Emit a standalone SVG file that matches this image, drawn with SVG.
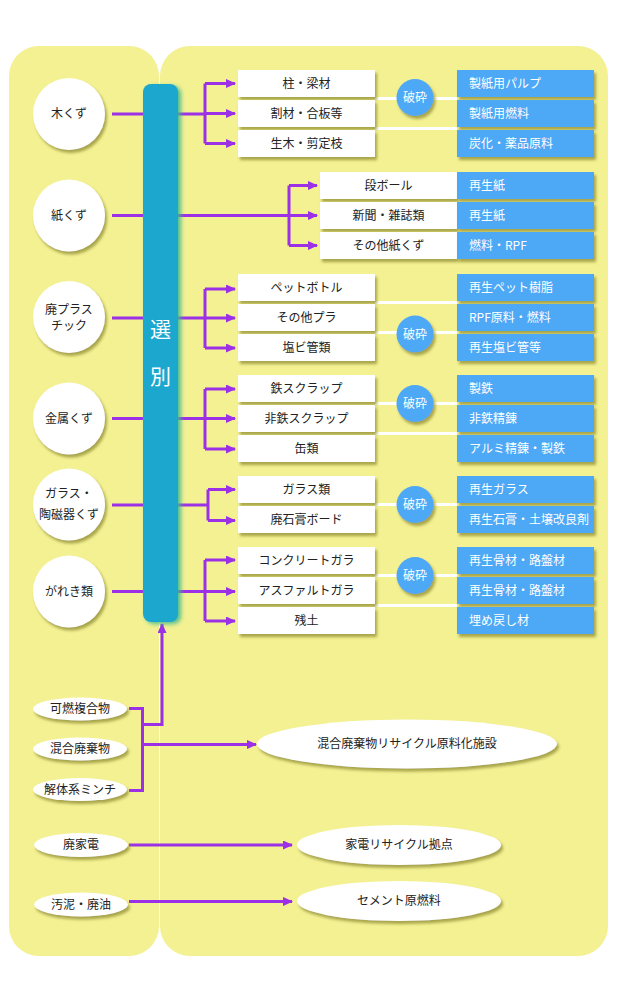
<svg xmlns="http://www.w3.org/2000/svg" width="618" height="989" viewBox="0 0 618 989">
<defs>
<style>
text{font-family:"Noto Sans CJK JP","Noto Sans",sans-serif;font-size:12px;fill:#222}
.bx{fill:#fff;filter:url(#sh)}
.bb{fill:#4EA8F6;filter:url(#sh)}
.wt{fill:#fff}
.c{text-anchor:middle}
.pl{fill:none;stroke:#9B30E6;stroke-width:3}
.wl{fill:none;stroke:#fff;stroke-width:3}
.cr{fill:#fff;filter:url(#sh)}
.hs{fill:#4EA8F6;filter:url(#sh)}
</style>
<filter id="sh" x="-20%" y="-20%" width="150%" height="160%">
<feDropShadow dx="2" dy="3" stdDeviation="1.5" flood-color="#9a953c" flood-opacity="0.85"/>
</filter>
<filter id="bsh" x="-30%" y="-5%" width="170%" height="115%">
<feDropShadow dx="3" dy="2" stdDeviation="2" flood-color="#3fb88f" flood-opacity="0.9"/>
</filter>
<marker id="ah" markerWidth="10" markerHeight="9" refX="9" refY="4.5" orient="auto" markerUnits="userSpaceOnUse">
<path d="M0,0 L10,4.5 L0,9 z" fill="#9B30E6"/>
</marker>
</defs>
<g id="background">
<rect x="9" y="46" width="150" height="910" rx="30" fill="#F3F192"/>
<rect x="160" y="46" width="448" height="910" rx="30" fill="#F3F192"/>
</g>
<g id="connectors">
<path class="pl" d="M112,114 H205"/>
<path class="pl" d="M205,83.5 V143.5"/>
<path class="pl" marker-end="url(#ah)" d="M205,83.5 H235"/>
<path class="pl" marker-end="url(#ah)" d="M205,113.5 H235"/>
<path class="pl" marker-end="url(#ah)" d="M205,143.5 H235"/>
<path class="pl" d="M112,215.5 H289"/>
<path class="pl" d="M289,185.5 V245.5"/>
<path class="pl" marker-end="url(#ah)" d="M289,185.5 H317"/>
<path class="pl" marker-end="url(#ah)" d="M289,215.5 H317"/>
<path class="pl" marker-end="url(#ah)" d="M289,245.5 H317"/>
<path class="pl" d="M112,318 H205"/>
<path class="pl" d="M205,289 V348"/>
<path class="pl" marker-end="url(#ah)" d="M205,289 H235"/>
<path class="pl" marker-end="url(#ah)" d="M205,318 H235"/>
<path class="pl" marker-end="url(#ah)" d="M205,348 H235"/>
<path class="pl" d="M112,418.5 H205"/>
<path class="pl" d="M205,389 V449"/>
<path class="pl" marker-end="url(#ah)" d="M205,389 H235"/>
<path class="pl" marker-end="url(#ah)" d="M205,418.5 H235"/>
<path class="pl" marker-end="url(#ah)" d="M205,449 H235"/>
<path class="pl" d="M112,505 H208"/>
<path class="pl" d="M208,489.5 V520.5"/>
<path class="pl" marker-end="url(#ah)" d="M208,489.5 H235"/>
<path class="pl" marker-end="url(#ah)" d="M208,520.5 H235"/>
<path class="pl" d="M112,591.5 H205"/>
<path class="pl" d="M205,560 V621"/>
<path class="pl" marker-end="url(#ah)" d="M205,560 H235"/>
<path class="pl" marker-end="url(#ah)" d="M205,591.5 H235"/>
<path class="pl" marker-end="url(#ah)" d="M205,621 H235"/>
<path class="pl" d="M129,708.5 H142.5 V790.5 H129"/>
<path class="pl" marker-end="url(#ah)" d="M142.5,724.5 H162 V624"/>
<path class="pl" marker-end="url(#ah)" d="M142.5,744.5 H256"/>
<path class="pl" marker-end="url(#ah)" d="M129,845 H292"/>
<path class="pl" marker-end="url(#ah)" d="M129,901.5 H292"/>
<path class="wl" d="M375,98.5 H457"/>
<path class="wl" d="M375,128.5 H457"/>
<path class="wl" d="M375,302.5 H457"/>
<path class="wl" d="M375,332.5 H457"/>
<path class="wl" d="M375,403.5 H457"/>
<path class="wl" d="M375,433.5 H457"/>
<path class="wl" d="M375,504.5 H457"/>
<path class="wl" d="M375,575.5 H457"/>
<path class="wl" d="M375,605.5 H457"/>
</g>
<g id="sort-bar">
<rect x="143" y="84" width="35" height="538" rx="8" fill="#1BA7CF" filter="url(#bsh)"/>
<text class="c" x="160.5" y="337" style="font-size:21px;fill:#fff">選</text>
<text class="c" x="160.5" y="384" style="font-size:21px;fill:#fff">別</text>
</g>
<g id="src-wood"><circle class="cr" cx="69" cy="114" r="36"/><text class="c" x="69" y="118">木くず</text></g>
<g id="src-paper"><circle class="cr" cx="69" cy="215.5" r="36"/><text class="c" x="69" y="219.5">紙くず</text></g>
<g id="src-plastic"><circle class="cr" cx="69" cy="317" r="36"/><text class="c" x="69" y="313.5">廃プラス</text><text class="c" x="69" y="330">チック</text></g>
<g id="src-metal"><circle class="cr" cx="69" cy="418.5" r="36"/><text class="c" x="69" y="422.5">金属くず</text></g>
<g id="src-glass"><circle class="cr" cx="69" cy="504.5" r="36"/><text class="c" x="69" y="498">ガラス・</text><text class="c" x="69" y="519">陶磁器くず</text></g>
<g id="src-rubble"><circle class="cr" cx="69" cy="591.5" r="36"/><text class="c" x="69" y="595.5">がれき類</text></g>
<g id="wood-items">
<rect class="bx" x="238" y="70" width="137" height="27"/><text class="c" x="306.5" y="88">柱・梁材</text>
<rect class="bx" x="238" y="100" width="137" height="27"/><text class="c" x="306.5" y="118">割材・合板等</text>
<rect class="bx" x="238" y="130" width="137" height="27"/><text class="c" x="306.5" y="148">生木・剪定枝</text>
</g>
<g id="wood-out">
<rect class="bb" x="457" y="70" width="137" height="27"/><text class="wt" x="469" y="88">製紙用パルプ</text>
<rect class="bb" x="457" y="100" width="137" height="27"/><text class="wt" x="469" y="118">製紙用燃料</text>
<rect class="bb" x="457" y="130" width="137" height="27"/><text class="wt" x="469" y="148">炭化・薬品原料</text>
</g>
<g id="crush-wood"><circle class="hs" cx="415" cy="97.5" r="18.5"/><text class="c wt" x="415" y="102">破砕</text></g>
<g id="paper-items">
<rect class="bx" x="320" y="172" width="137" height="27"/><text class="c" x="388.5" y="190">段ボール</text>
<rect class="bx" x="320" y="202" width="137" height="27"/><text class="c" x="388.5" y="220">新聞・雑誌類</text>
<rect class="bx" x="320" y="232" width="137" height="27"/><text class="c" x="388.5" y="250">その他紙くず</text>
</g>
<g id="paper-out">
<rect class="bb" x="457" y="172" width="137" height="27"/><text class="wt" x="469" y="190">再生紙</text>
<rect class="bb" x="457" y="202" width="137" height="27"/><text class="wt" x="469" y="220">再生紙</text>
<rect class="bb" x="457" y="232" width="137" height="27"/><text class="wt" x="469" y="250">燃料・RPF</text>
</g>
<g id="plastic-items">
<rect class="bx" x="238" y="274" width="137" height="27"/><text class="c" x="306.5" y="292">ペットボトル</text>
<rect class="bx" x="238" y="304" width="137" height="27"/><text class="c" x="306.5" y="322">その他プラ</text>
<rect class="bx" x="238" y="334" width="137" height="27"/><text class="c" x="306.5" y="352">塩ビ管類</text>
</g>
<g id="plastic-out">
<rect class="bb" x="457" y="274" width="137" height="27"/><text class="wt" x="469" y="292">再生ペット樹脂</text>
<rect class="bb" x="457" y="304" width="137" height="27"/><text class="wt" x="469" y="322">RPF原料・燃料</text>
<rect class="bb" x="457" y="334" width="137" height="27"/><text class="wt" x="469" y="352">再生塩ビ管等</text>
</g>
<g id="crush-plastic"><circle class="hs" cx="415" cy="334" r="18.5"/><text class="c wt" x="415" y="338.5">破砕</text></g>
<g id="metal-items">
<rect class="bx" x="238" y="375" width="137" height="27"/><text class="c" x="306.5" y="393">鉄スクラップ</text>
<rect class="bx" x="238" y="405" width="137" height="27"/><text class="c" x="306.5" y="423">非鉄スクラップ</text>
<rect class="bx" x="238" y="435" width="137" height="27"/><text class="c" x="306.5" y="453">缶類</text>
</g>
<g id="metal-out">
<rect class="bb" x="457" y="375" width="137" height="27"/><text class="wt" x="469" y="393">製鉄</text>
<rect class="bb" x="457" y="405" width="137" height="27"/><text class="wt" x="469" y="423">非鉄精錬</text>
<rect class="bb" x="457" y="435" width="137" height="27"/><text class="wt" x="469" y="453">アルミ精錬・製鉄</text>
</g>
<g id="crush-metal"><circle class="hs" cx="415" cy="403.5" r="18.5"/><text class="c wt" x="415" y="408">破砕</text></g>
<g id="glass-items">
<rect class="bx" x="238" y="476" width="137" height="27"/><text class="c" x="306.5" y="494">ガラス類</text>
<rect class="bx" x="238" y="506" width="137" height="27"/><text class="c" x="306.5" y="524">廃石膏ボード</text>
</g>
<g id="glass-out">
<rect class="bb" x="457" y="476" width="137" height="27"/><text class="wt" x="469" y="494">再生ガラス</text>
<rect class="bb" x="457" y="506" width="137" height="27"/><text class="wt" x="469" y="524">再生石膏・土壌改良剤</text>
</g>
<g id="crush-glass"><circle class="hs" cx="415" cy="504.5" r="18.5"/><text class="c wt" x="415" y="509">破砕</text></g>
<g id="rubble-items">
<rect class="bx" x="238" y="547" width="137" height="27"/><text class="c" x="306.5" y="565">コンクリートガラ</text>
<rect class="bx" x="238" y="577" width="137" height="27"/><text class="c" x="306.5" y="595">アスファルトガラ</text>
<rect class="bx" x="238" y="607" width="137" height="27"/><text class="c" x="306.5" y="625">残土</text>
</g>
<g id="rubble-out">
<rect class="bb" x="457" y="547" width="137" height="27"/><text class="wt" x="469" y="565">再生骨材・路盤材</text>
<rect class="bb" x="457" y="577" width="137" height="27"/><text class="wt" x="469" y="595">再生骨材・路盤材</text>
<rect class="bb" x="457" y="607" width="137" height="27"/><text class="wt" x="469" y="625">埋め戻し材</text>
</g>
<g id="crush-rubble"><circle class="hs" cx="415" cy="575.5" r="18.5"/><text class="c wt" x="415" y="580">破砕</text></g>
<g id="mix-combustible"><ellipse class="cr" cx="80" cy="709" rx="47" ry="11.5"/><text class="c" x="80" y="713">可燃複合物</text></g>
<g id="mix-waste"><ellipse class="cr" cx="80" cy="749" rx="47" ry="11.5"/><text class="c" x="80" y="753">混合廃棄物</text></g>
<g id="mix-mince"><ellipse class="cr" cx="80" cy="789.5" rx="47" ry="11.5"/><text class="c" x="80" y="793.5">解体系ミンチ</text></g>
<g id="mix-facility"><ellipse class="cr" cx="407" cy="744" rx="150" ry="24.5"/><text class="c" x="407" y="748">混合廃棄物リサイクル原料化施設</text></g>
<g id="appliance"><ellipse class="cr" cx="81" cy="845" rx="47" ry="12"/><text class="c" x="81" y="849">廃家電</text></g>
<g id="appliance-center"><ellipse class="cr" cx="399" cy="845" rx="102" ry="20"/><text class="c" x="399" y="849">家電リサイクル拠点</text></g>
<g id="sludge"><ellipse class="cr" cx="81" cy="904.5" rx="47" ry="12"/><text class="c" x="81" y="908.5">汚泥・廃油</text></g>
<g id="cement"><ellipse class="cr" cx="399" cy="901" rx="102" ry="20"/><text class="c" x="399" y="905">セメント原燃料</text></g>
</svg>
